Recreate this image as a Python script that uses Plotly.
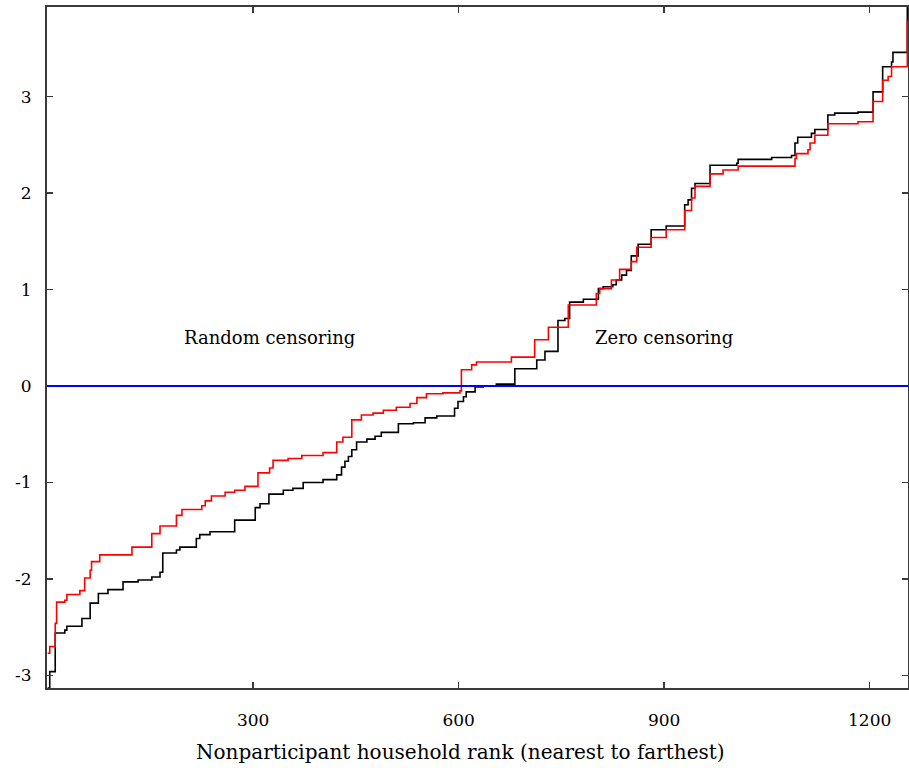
import plotly.graph_objects as go

# Zero censoring (black) step curve: rank at which each level starts, and level value
black_rank = [0, 3, 11, 25, 28, 50, 62, 74, 88, 110, 132, 152, 164, 168, 188, 193, 217, 222, 237,
              273, 303, 310, 323, 344, 358, 373, 402, 422, 429, 434, 439, 444, 451, 466, 478, 487,
              512, 534, 551, 568, 594, 599, 607, 611, 624, 636, 655, 682, 714, 726, 745, 755, 762,
              782, 804, 811, 825, 830, 838, 845, 852, 862, 881, 903, 930, 935, 940, 945, 967, 1006,
              1008, 1057, 1086, 1091, 1095, 1115, 1120, 1139, 1149, 1183, 1205, 1219, 1232, 1234, 1255]
black_val = [-3.13, -2.96, -2.56, -2.53, -2.49, -2.41, -2.25, -2.15, -2.11, -2.03, -2.01, -1.98, -1.93,
             -1.73, -1.70, -1.67, -1.58, -1.54, -1.51, -1.39, -1.26, -1.22, -1.12, -1.08, -1.06, -1.00,
             -0.97, -0.92, -0.84, -0.78, -0.73, -0.66, -0.58, -0.55, -0.52, -0.48, -0.39, -0.38, -0.33,
             -0.31, -0.23, -0.16, -0.11, -0.06, -0.01, 0.00, 0.02, 0.18, 0.27, 0.36, 0.68, 0.70, 0.87,
             0.90, 1.01, 1.03, 1.05, 1.10, 1.15, 1.20, 1.35, 1.47, 1.62, 1.66, 1.88, 1.93, 2.05, 2.10,
             2.29, 2.31, 2.35, 2.37, 2.39, 2.52, 2.58, 2.62, 2.66, 2.81, 2.83, 2.84, 3.05, 3.31, 3.36,
             3.46, 3.93]

# Random censoring (red) step curve
red_rank = [0, 3, 11, 13, 25, 28, 47, 54, 62, 64, 76, 123, 152, 164, 188, 196, 225, 230, 239, 259,
            273, 288, 307, 324, 329, 351, 371, 402, 422, 431, 444, 458, 475, 490, 509, 529, 539, 553,
            577, 602, 604, 619, 626, 677, 711, 731, 760, 801, 806, 823, 835, 852, 860, 881, 903, 930,
            940, 945, 967, 986, 1008, 1091, 1093, 1110, 1113, 1120, 1139, 1183, 1205, 1219, 1227,
            1232, 1255]
red_val = [-2.77, -2.70, -2.46, -2.24, -2.22, -2.16, -2.12, -1.99, -1.91, -1.82, -1.75, -1.67, -1.53,
           -1.45, -1.34, -1.28, -1.24, -1.19, -1.14, -1.10, -1.08, -1.04, -0.90, -0.85, -0.77, -0.75,
           -0.72, -0.69, -0.58, -0.53, -0.35, -0.30, -0.28, -0.25, -0.22, -0.18, -0.12, -0.08, -0.07,
           -0.05, 0.17, 0.22, 0.25, 0.30, 0.48, 0.61, 0.84, 0.96, 1.01, 1.10, 1.21, 1.29, 1.44, 1.54,
           1.62, 1.82, 1.95, 2.07, 2.20, 2.24, 2.28, 2.36, 2.41, 2.45, 2.52, 2.60, 2.72, 2.74, 2.95,
           3.17, 3.21, 3.31, 3.79]

x_ticks = [300, 600, 900, 1200]
y_ticks = [-3, -2, -1, 0, 1, 2, 3]
labels = ["Random censoring", "Zero censoring"]
label_x = [324, 900]
label_y = [0.50, 0.50]
x_title = "Nonparticipant household rank (nearest to farthest)"

FONT = "DejaVu Serif"
AX = "#3a3a3a"

fig = go.Figure()
fig.add_trace(go.Scatter(x=black_rank, y=black_val, mode="lines",
                         line=dict(color="black", width=1.6, shape="hv"), showlegend=False,
                         hoverinfo="skip"))
fig.add_trace(go.Scatter(x=red_rank, y=red_val, mode="lines",
                         line=dict(color="#ff0000", width=1.6, shape="hv"), showlegend=False,
                         hoverinfo="skip"))
fig.add_hline(y=0, line=dict(color="#0000ff", width=2), layer="above")

for t, xx, yy in zip(labels, label_x, label_y):
    fig.add_annotation(x=xx, y=yy, text=t, showarrow=False,
                       font=dict(family=FONT, size=18, color="black"))

# x-axis title (placed as annotation so it can sit slightly left of centre, as in the original)
fig.add_annotation(x=0.48, y=0, xref="paper", yref="paper", text=x_title, showarrow=False,
                   yanchor="middle", yshift=-64, font=dict(family=FONT, size=20, color="black"))

axis_common = dict(showgrid=False, zeroline=False, showline=True, linecolor=AX, linewidth=2,
                   mirror="ticks", ticks="inside", ticklen=6, tickwidth=1.5, tickcolor=AX,
                   automargin=False,
                   tickfont=dict(family=FONT, size=17, color="black"))

fig.update_xaxes(range=[-1, 1256], tickvals=x_ticks, ticktext=[str(v) for v in x_ticks],
                 ticklabelstandoff=16, **axis_common)
fig.update_yaxes(range=[-3.13, 3.93], tickvals=y_ticks, ticktext=[str(v) for v in y_ticks],
                 ticklabelstandoff=10, **axis_common)

fig.update_layout(width=909, height=768, margin=dict(l=47, r=1, t=7, b=80),
                  plot_bgcolor="white", paper_bgcolor="white",
                  font=dict(family=FONT, color="black"))

fig.write_html("out.html", config={"displayModeBar": False, "staticPlot": True},
               post_script="document.body.style.margin='0';document.body.style.overflow='hidden';")
